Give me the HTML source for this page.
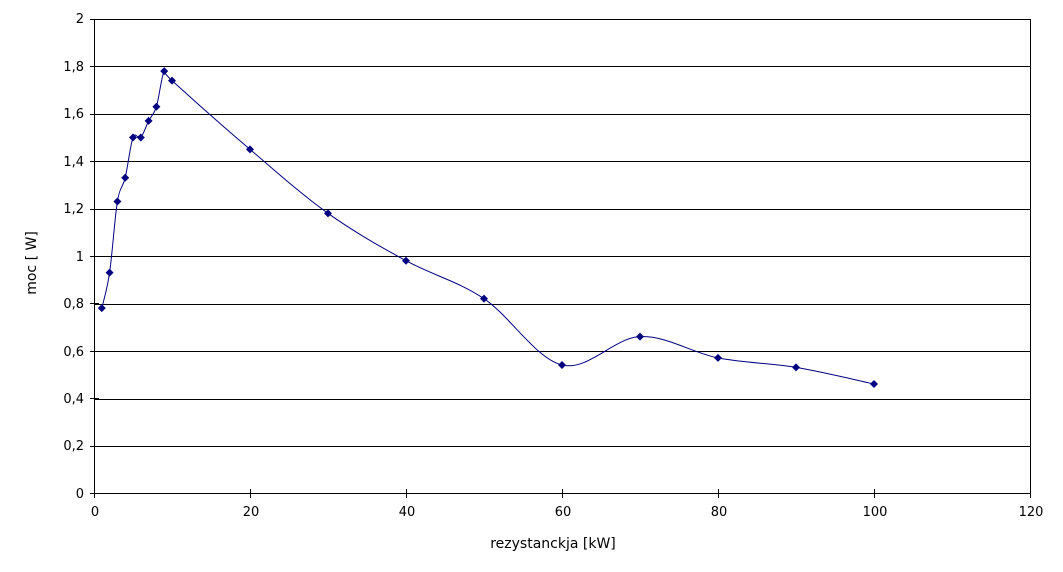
<!DOCTYPE html>
<html><head><meta charset="utf-8"><style>
body{margin:0;background:#fff}
svg{display:block}
text{font-family:"DejaVu Sans","Liberation Sans",sans-serif;font-size:13px;fill:#000}
.t{font-size:14px}
</style></head><body>
<svg id="s" width="1063" height="572" viewBox="0 0 1063 572">
<rect x="0" y="0" width="1063" height="572" fill="#fff"/>
<g stroke="#000" stroke-width="1" shape-rendering="crispEdges">
<line x1="94" y1="19.5" x2="1030" y2="19.5"/>
<line x1="94" y1="66.5" x2="1030" y2="66.5"/>
<line x1="94" y1="114.5" x2="1030" y2="114.5"/>
<line x1="94" y1="161.5" x2="1030" y2="161.5"/>
<line x1="94" y1="209.5" x2="1030" y2="209.5"/>
<line x1="94" y1="256.5" x2="1030" y2="256.5"/>
<line x1="94" y1="304.5" x2="1030" y2="304.5"/>
<line x1="94" y1="351.5" x2="1030" y2="351.5"/>
<line x1="94" y1="399.5" x2="1030" y2="399.5"/>
<line x1="94" y1="446.5" x2="1030" y2="446.5"/>
<line x1="94" y1="493.5" x2="1030" y2="493.5"/>
<line x1="94.5" y1="19" x2="94.5" y2="494"/>
<line x1="1030.5" y1="19" x2="1030.5" y2="494"/>
</g>
<g stroke="#000" shape-rendering="crispEdges" id="ticks"></g>
<g text-anchor="end">
<text x="84" y="23">2</text><text x="84" y="71">1,8</text><text x="84" y="118">1,6</text>
<text x="84" y="166">1,4</text><text x="84" y="213">1,2</text><text x="84" y="261">1</text>
<text x="84" y="308">0,8</text><text x="84" y="356">0,6</text><text x="84" y="403">0,4</text>
<text x="84" y="450">0,2</text><text x="84" y="498">0</text>
</g>
<g text-anchor="middle">
<text x="95" y="516">0</text><text x="251" y="516">20</text><text x="407" y="516">40</text>
<text x="563" y="516">60</text><text x="719" y="516">80</text><text x="875" y="516">100</text>
<text x="1031" y="516">120</text>
<text class="t" x="553" y="548">rezystanckja [kW]</text>
<text class="t" transform="translate(36,263) rotate(-90)">moc [ W]</text>
</g>
<path id="curve" fill="none" stroke="#000080" stroke-width="1" d=""/>
<g id="marks" fill="#000080"></g>
</svg>
<script>
var d=[[1,.78],[2,.93],[3,1.23],[4,1.33],[5,1.5],[6,1.5],[7,1.57],[8,1.63],[9,1.78],[10,1.74],[20,1.45],[30,1.18],[40,.98],[50,.82],[60,.54],[70,.66],[80,.57],[90,.53],[100,.46]];
var p=d.map(function(a){return [94+7.8*a[0],493-237*a[1]]});
var s="M"+p[0][0]+","+p[0][1];
for(var i=0;i<p.length-1;i++){var p0=p[Math.max(0,i-1)],p1=p[i],p2=p[i+1],p3=p[Math.min(p.length-1,i+2)];
s+=" C"+(p1[0]+(p2[0]-p0[0])/6)+","+(p1[1]+(p2[1]-p0[1])/6)+" "+(p2[0]-(p3[0]-p1[0])/6)+","+(p2[1]-(p3[1]-p1[1])/6)+" "+p2[0]+","+p2[1];}
document.getElementById("curve").setAttribute("d",s);
var ns="http://www.w3.org/2000/svg",g=document.getElementById("marks");
p.forEach(function(q){var e=document.createElementNS(ns,"polygon");e.setAttribute("points",(q[0])+","+(q[1]-4)+" "+(q[0]+4)+","+q[1]+" "+q[0]+","+(q[1]+4)+" "+(q[0]-4)+","+q[1]);g.appendChild(e);});
var t=document.getElementById("ticks");
for(var k=0;k<=6;k++){var x=94.5+156*k;var l=document.createElementNS(ns,"line");l.setAttribute("x1",x);l.setAttribute("x2",x);l.setAttribute("y1",489);l.setAttribute("y2",498);t.appendChild(l);}
for(var k=0;k<=10;k++){var y=Math.round(493-47.4*k)+.5;var l=document.createElementNS(ns,"line");l.setAttribute("x1",90);l.setAttribute("x2",99);l.setAttribute("y1",y);l.setAttribute("y2",y);t.appendChild(l);}
</script>
</body></html>
